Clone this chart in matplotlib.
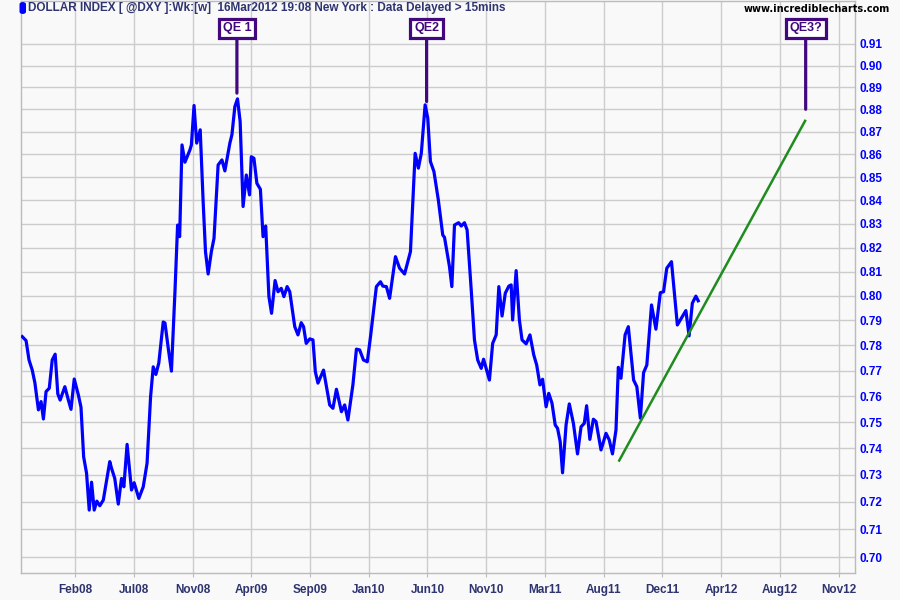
import numpy as np
import matplotlib
matplotlib.use('Agg')
import matplotlib.pyplot as plt
from matplotlib.patches import FancyBboxPatch

# weekly dollar index (scaled /100), x = weeks from chart start
weeks = [0.5, 1.8, 2.8, 3.9, 4.8, 6.0, 6.9, 7.7, 8.6, 9.7, 10.7, 11.7, 12.6, 13.4, 15.0,
         16.2, 17.1, 18.2, 19.6, 20.5, 21.4, 22.4, 23.3, 24.1, 25.0, 25.9, 26.9, 28.1, 30.3,
         30.9, 32.0, 33.2, 34.3, 35.1, 36.2, 37.7, 38.6, 40.2, 41.7, 43.0, 44.2, 45.1, 46.0,
         47.0, 48.5, 49.1, 50.2, 51.3, 52.5, 53.4, 54.1, 54.9, 55.9, 57.6, 58.1, 59.0, 59.9,
         61.1, 62.1, 62.9, 63.8, 64.9, 65.8, 67.2, 68.5, 69.5, 71.2, 71.9, 72.9, 73.8, 74.7,
         75.7, 76.8, 77.9, 78.5, 79.4, 80.4, 81.6, 82.5, 83.4, 84.5, 85.4, 86.6, 87.6, 88.7,
         89.6, 90.7, 91.6, 93.3, 94.4, 95.5, 96.3, 97.2, 98.4, 99.5, 100.3, 101.2, 103.1,
         105.2, 106.3, 107.5, 109.2, 110.3, 111.4, 113.1, 114.3, 115.4, 116.7, 118.0, 119.1,
         121.1, 122.5, 123.3, 124.5, 125.6, 127.6, 129.0, 130.7, 132.7, 134.3, 135.4, 136.4,
         137.7, 138.6, 139.5, 140.7, 142.2, 143.7, 144.3, 146.0, 146.8, 147.7, 149.1, 150.0,
         151.1, 152.0, 153.4, 154.5, 155.6, 156.8, 157.6, 159.6, 160.7, 161.9, 162.8, 163.9,
         165.0, 166.2, 167.0, 167.5, 168.7, 169.8, 170.7, 172.1, 173.4, 174.7, 175.7, 176.8,
         177.7, 178.9, 179.8, 180.9, 182.0, 182.8, 183.7, 184.5, 185.7, 186.8, 188.2, 189.6,
         190.8, 191.9, 192.7, 193.8, 195.0, 195.9, 197.6, 199.3, 200.4, 201.5, 202.7, 203.5,
         204.4, 205.8, 206.9, 208.7, 209.8, 211.0, 212.1, 213.2, 214.8, 216.3, 217.8, 218.9,
         220.0, 221.6, 223.6, 226.5, 227.6, 228.7, 229.9, 230.7]
dxy = [0.7835, 0.7819, 0.7742, 0.7702, 0.7652, 0.7547, 0.7579, 0.7512, 0.7618, 0.7631, 0.7742,
       0.7765, 0.7609, 0.7585, 0.7637, 0.7585, 0.7549, 0.7667, 0.7605, 0.7557, 0.7368, 0.7306,
       0.7170, 0.7273, 0.7170, 0.7203, 0.7186, 0.7207, 0.7350, 0.7325, 0.7287, 0.7192, 0.7287,
       0.7256, 0.7415, 0.7244, 0.7271, 0.7213, 0.7256, 0.7344, 0.7598, 0.7715, 0.7685, 0.7730,
       0.7894, 0.7890, 0.7790, 0.7698, 0.8017, 0.8295, 0.8246, 0.8642, 0.8566, 0.8620, 0.8642,
       0.8818, 0.8650, 0.8709, 0.8395, 0.8183, 0.8090, 0.8183, 0.8239, 0.8554, 0.8576, 0.8528,
       0.8650, 0.8687, 0.8813, 0.8848, 0.8746, 0.8374, 0.8510, 0.8424, 0.8590, 0.8583, 0.8474,
       0.8448, 0.8246, 0.8291, 0.7997, 0.7929, 0.8063, 0.8017, 0.8031, 0.7997, 0.8038, 0.8017,
       0.7875, 0.7842, 0.7891, 0.7875, 0.7808, 0.7826, 0.7822, 0.7696, 0.7651, 0.7702, 0.7566,
       0.7553, 0.7627, 0.7540, 0.7566, 0.7508, 0.7644, 0.7785, 0.7782, 0.7742, 0.7735, 0.7835,
       0.8038, 0.8058, 0.8040, 0.8038, 0.7990, 0.8162, 0.8114, 0.8090, 0.8183, 0.8605, 0.8540,
       0.8605, 0.8821, 0.8761, 0.8569, 0.8525, 0.8402, 0.8253, 0.8243, 0.8120, 0.8038, 0.8295,
       0.8305, 0.8291, 0.8305, 0.8274, 0.8024, 0.7822, 0.7742, 0.7709, 0.7745, 0.7663, 0.7808,
       0.7842, 0.8038, 0.7918, 0.8011, 0.8040, 0.8045, 0.7902, 0.8104, 0.7902, 0.7822, 0.7806,
       0.7842, 0.7762, 0.7722, 0.7644, 0.7666, 0.7559, 0.7611, 0.7573, 0.7489, 0.7476, 0.7425,
       0.7308, 0.7489, 0.7570, 0.7495, 0.7379, 0.7482, 0.7495, 0.7563, 0.7434, 0.7511, 0.7502,
       0.7394, 0.7457, 0.7432, 0.7379, 0.7470, 0.7713, 0.7670, 0.7842, 0.7875, 0.7663, 0.7637,
       0.7515, 0.7692, 0.7722, 0.7963, 0.7865, 0.8013, 0.8017, 0.8114, 0.8141, 0.7882, 0.7940,
       0.7838, 0.7970, 0.7999, 0.7980]

trend_weeks = [203.8, 267.1]
trend_vals = [0.7354, 0.8749]

qe_labels = ['QE 1', 'QE2', 'QE3?']
qe_weeks = [73.6, 138.2, 267.3]
qe_vals = [0.8874, 0.8836, 0.8801]

x_labels = ['Feb08', 'Jul08', 'Nov08', 'Apr09', 'Sep09', 'Jan10', 'Jun10', 'Nov10',
            'Mar11', 'Aug11', 'Dec11', 'Apr12', 'Aug12', 'Nov12']
first_tick = 18.5
tick_step = 20
y_ticks = [0.70, 0.71, 0.72, 0.73, 0.74, 0.75, 0.76, 0.77, 0.78, 0.79, 0.80,
           0.81, 0.82, 0.83, 0.84, 0.85, 0.86, 0.87, 0.88, 0.89, 0.90, 0.91]

bg = '#f9f9f9'
grid_col = '#cccccc'
navy = '#2e3470'
purple = '#42097f'

fig = plt.figure(figsize=(9, 6), dpi=100, facecolor=bg)
ax = fig.add_axes([20.8/900, 27/600, (855-20.8)/900, 572/600])
ax.set_facecolor(bg)

ax.plot(weeks, dxy, color='#0000ff', lw=2.3, zorder=3)
ax.plot(trend_weeks, trend_vals, color='#1f8c1f', lw=1.8, zorder=4)

ax.set_yscale('log')
ax.set_ylim(0.6943, 0.9302)
ax.set_xlim(0, 284.1)
ax.yaxis.tick_right()
ax.set_yticks(y_ticks)
ax.set_yticklabels(['%.2f' % v for v in y_ticks])
ax.yaxis.set_minor_locator(matplotlib.ticker.NullLocator())
ax.set_xticks(first_tick + tick_step*np.arange(len(x_labels)))
ax.set_xticklabels(x_labels)

ax.grid(True, color=grid_col, lw=1)
ax.set_axisbelow(True)
for s in ax.spines.values():
    s.set_color('#bbbbbb')
    s.set_linewidth(1)

ax.tick_params(axis='y', length=0, pad=3, labelcolor='#0000ff', labelsize=8.5)
ax.tick_params(axis='x', length=3, color='#bbbbbb', pad=5, labelcolor=navy, labelsize=8.5)
for t in ax.get_yticklabels():
    t.set_fontweight('bold')
    t.set_family('Liberation Sans')
for t in ax.get_xticklabels():
    t.set_fontweight('bold')
    t.set_family(['Liberation Sans Narrow', 'Liberation Sans'])

# QE markers
for lab, w, v in zip(qe_labels, qe_weeks, qe_vals):
    ax.annotate(lab, xy=(w, v), xycoords='data',
                xytext=(w, 0.952), textcoords=ax.get_xaxis_transform(),
                ha='center', va='center', color=purple, fontsize=9,
                fontweight='bold', family='Liberation Sans',
                bbox=dict(boxstyle='square,pad=0.3', fc='white', ec=purple, lw=2.3),
                arrowprops=dict(arrowstyle='-', color=purple, lw=2.3,
                                shrinkA=0, shrinkB=0), zorder=5)

# header
fig.patches.append(FancyBboxPatch((19.5/900, 1-14/600), 6.5/900, 12/600,
                                  boxstyle='round,pad=0,rounding_size=0.004',
                                  transform=fig.transFigure, fc='#0000ff', ec='none'))
fig.text(28/900, 1-8.5/600,
         'DOLLAR INDEX [ @DXY ]:Wk:[w]  16Mar2012 19:08 New York : Data Delayed > 15mins',
         color=navy, fontsize=8.5, fontweight='bold', family='Liberation Sans',
         va='center', ha='left')
fig.text(890/900, 1-8.5/600, 'www.incrediblecharts.com', color='black', fontsize=7,
         fontweight='bold', family='DejaVu Sans', va='center', ha='right')

fig.savefig('out.png', dpi=100, facecolor=bg)
